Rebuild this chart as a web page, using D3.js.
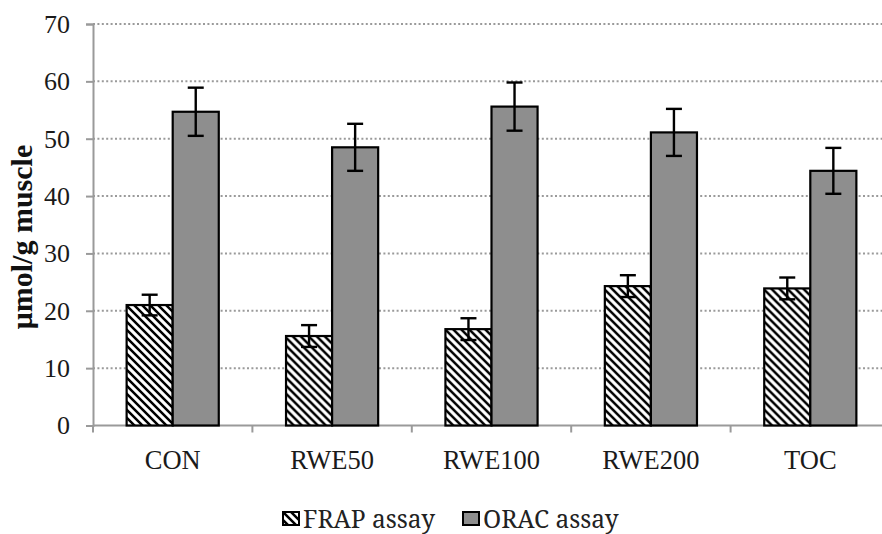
<!DOCTYPE html>
<html>
<head>
<meta charset="utf-8">
<script src="https://cdn.jsdelivr.net/npm/d3@7"></script>
<style>
  html, body { margin: 0; padding: 0; background: #fff; }
  svg { display: block; }
</style>
</head>
<body>
<svg id="chart" width="882" height="534"></svg>
<script>
// Antioxidant capacity of muscle by treatment group
const categories = ["CON", "RWE50", "RWE100", "RWE200", "TOC"];
const seriesNames = ["FRAP assay", "ORAC assay"];
const frapValues = [21.0, 15.6, 16.8, 24.3, 23.9];
const frapErrors = [1.8, 1.9, 1.9, 1.9, 1.9];
const oracValues = [54.7, 48.5, 55.6, 51.1, 44.4];
const oracErrors = [4.2, 4.1, 4.2, 4.1, 4.0];
const yTicks = [0, 10, 20, 30, 40, 50, 60, 70];

const svg = d3.select("#chart");
const SERIF = "Liberation Serif";
const LEGEND_FONT = "Noto Serif";

const plot = { left: 93, right: 890, top: 24, bottom: 425.5 };

const y = d3.scaleLinear().domain([0, 70]).range([plot.bottom, plot.top]);
const x0 = d3.scaleBand().domain(categories).range([plot.left, plot.right]).padding(0);
const x1 = d3.scaleBand().domain(seriesNames).range([0, x0.bandwidth()])
  .paddingInner(0).paddingOuter(0.73);

// hatch pattern for FRAP bars
const defs = svg.append("defs");
const P = 8;
const pat = defs.append("pattern")
  .attr("id", "hatch").attr("patternUnits", "userSpaceOnUse")
  .attr("width", P).attr("height", P);
pat.append("rect").attr("width", P).attr("height", P).attr("fill", "#fff");
pat.append("path")
  .attr("d", `M-1,-1 L${P + 1},${P + 1} M-${P / 2},${P / 2} L${P / 2},${P * 1.5} M${P / 2},-${P / 2} L${P * 1.5},${P / 2}`)
  .attr("stroke", "#000").attr("stroke-width", 2.5).attr("fill", "none");

// dotted gridlines
svg.append("g")
  .selectAll("line")
  .data(yTicks.filter(d => d > 0))
  .join("line")
  .attr("x1", plot.left).attr("x2", 882)
  .attr("y1", d => y(d)).attr("y2", d => y(d))
  .attr("stroke", "#9a9a9a").attr("stroke-width", 2)
  .attr("stroke-dasharray", "2,2.4");

// y axis
const yAxis = svg.append("g")
  .attr("transform", `translate(${plot.left},0)`)
  .call(d3.axisLeft(y).tickValues(yTicks).tickSize(7).tickPadding(16).tickFormat(d3.format("d")))
  .attr("font-family", SERIF).attr("font-size", 26);
yAxis.select(".domain").attr("stroke", "#9a9a9a").attr("stroke-width", 2);
yAxis.selectAll(".tick line").attr("stroke", "#9a9a9a").attr("stroke-width", 2);
yAxis.selectAll(".tick text")
  .attr("font-family", SERIF).attr("font-size", 26).attr("fill", "#1a1a1a");

// x axis with ticks between groups
const xAxisG = svg.append("g").attr("transform", `translate(0,${plot.bottom})`);
xAxisG.append("line")
  .attr("x1", plot.left).attr("x2", 882)
  .attr("stroke", "#9a9a9a").attr("stroke-width", 2);
xAxisG.selectAll("line.sep")
  .data(categories)
  .join("line").attr("class", "sep")
  .attr("x1", d => x0(d)).attr("x2", d => x0(d))
  .attr("y1", 0).attr("y2", 7)
  .attr("stroke", "#9a9a9a").attr("stroke-width", 2);
xAxisG.selectAll("text")
  .data(categories)
  .join("text")
  .attr("x", d => x0(d) + x0.bandwidth() / 2)
  .attr("y", 43)
  .attr("text-anchor", "middle")
  .attr("font-family", SERIF).attr("font-size", 26.5).attr("fill", "#1a1a1a")
  .text(d => d);

// bars
const rows = categories.map((c, i) => ({
  cat: c,
  items: [
    { s: seriesNames[0], v: frapValues[i], e: frapErrors[i] },
    { s: seriesNames[1], v: oracValues[i], e: oracErrors[i] }
  ]
}));
const fills = { "FRAP assay": "url(#hatch)", "ORAC assay": "#8e8e8e" };

const groups = svg.append("g").selectAll("g")
  .data(rows).join("g")
  .attr("transform", d => `translate(${x0(d.cat)},0)`);

groups.selectAll("rect")
  .data(d => d.items).join("rect")
  .attr("x", d => x1(d.s))
  .attr("y", d => y(d.v))
  .attr("width", x1.bandwidth())
  .attr("height", d => y(0) - y(d.v))
  .attr("fill", d => fills[d.s])
  .attr("stroke", "#000").attr("stroke-width", 2.2);

// error bars
const cap = 8;
const eb = groups.selectAll("g.err")
  .data(d => d.items).join("g").attr("class", "err")
  .attr("stroke", "#000").attr("stroke-width", 2.4);
const cx = d => x1(d.s) + x1.bandwidth() / 2;
eb.append("line")
  .attr("x1", cx).attr("x2", cx)
  .attr("y1", d => y(d.v + d.e)).attr("y2", d => y(d.v - d.e));
eb.append("line")
  .attr("x1", d => cx(d) - cap).attr("x2", d => cx(d) + cap)
  .attr("y1", d => y(d.v + d.e)).attr("y2", d => y(d.v + d.e));
eb.append("line")
  .attr("x1", d => cx(d) - cap).attr("x2", d => cx(d) + cap)
  .attr("y1", d => y(d.v - d.e)).attr("y2", d => y(d.v - d.e));

// y axis title
svg.append("text")
  .attr("transform", "translate(32,237) rotate(-90)")
  .attr("text-anchor", "middle")
  .attr("font-family", SERIF).attr("font-size", 30).attr("font-weight", "bold")
  .attr("fill", "#111")
  .text("μmol/g muscle");

// legend
const legend = svg.append("g");
const legendItems = [
  { s: seriesNames[0], x: 283 },
  { s: seriesNames[1], x: 463 }
];
const li = legend.selectAll("g").data(legendItems).join("g")
  .attr("transform", d => `translate(${d.x},0)`);
li.append("rect")
  .attr("x", 0).attr("y", 512).attr("width", 16).attr("height", 13)
  .attr("fill", d => fills[d.s]).attr("stroke", "#000").attr("stroke-width", 2);
li.append("text")
  .attr("x", 20).attr("y", 528)
  .attr("font-family", LEGEND_FONT).attr("font-size", 24.5).attr("fill", "#222")
  .text(d => d.s);
</script>
</body>
</html>
